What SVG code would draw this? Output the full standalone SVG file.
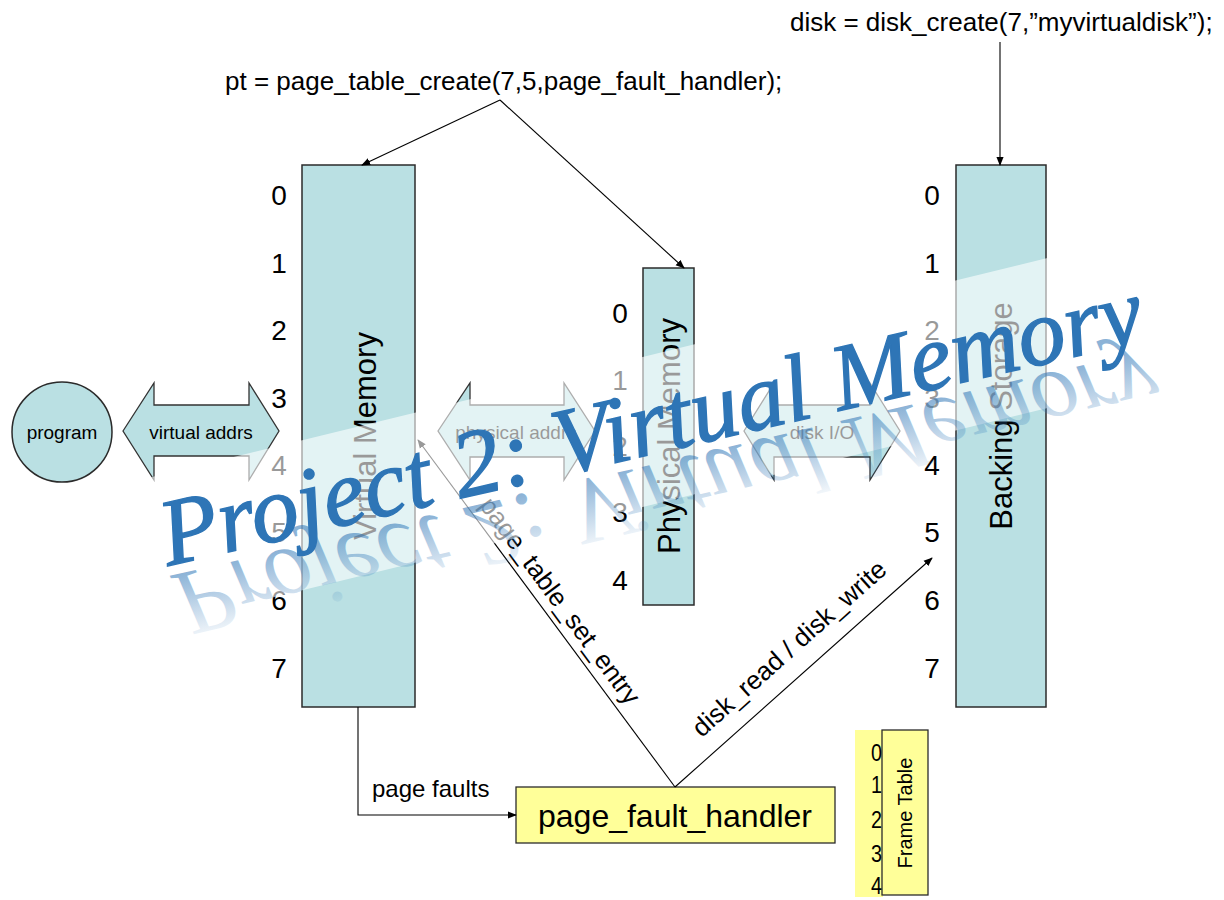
<svg xmlns="http://www.w3.org/2000/svg" width="1224" height="900" viewBox="0 0 1224 900">
<style>
text{font-family:"Liberation Sans",Arial,sans-serif;fill:#000}
.col{fill:#BAE0E3;stroke:#2b2b2b;stroke-width:1.5}
.yel{fill:#FFFF99;stroke:#2b2b2b;stroke-width:1.3}
.arw{fill:#BAE0E3;stroke:#333;stroke-width:1.3}
.num{font-size:28px;text-anchor:middle}
.ft{font-size:24px;text-anchor:end}
.lbl{font-size:19px;text-anchor:middle}
.big{font-size:31px;text-anchor:middle}
.code{font-size:26px}
.conn{fill:none;stroke:#000;stroke-width:1.1}
.title{font-family:"Liberation Serif","Times New Roman",serif;font-style:italic;font-size:95px;fill:#2E75B6;stroke:#2E75B6;stroke-width:1.4}
.refl{font-family:"Liberation Serif","Times New Roman",serif;font-style:italic;font-size:95px}
</style>
<defs>
<marker id="ah" viewBox="0 0 10 10" refX="9" refY="5" markerWidth="9" markerHeight="9" markerUnits="userSpaceOnUse" orient="auto">
<path d="M0,1 L10,5 L0,9 Z" fill="#000"/>
</marker>
<linearGradient id="refl" gradientUnits="userSpaceOnUse" x1="0" y1="0" x2="0" y2="-75">
<stop offset="0" stop-color="#2E75B6" stop-opacity="0.55"/>
<stop offset="1" stop-color="#2E75B6" stop-opacity="0"/>
</linearGradient>
</defs>
<rect width="1224" height="900" fill="#fff"/>

<g id="program">
<circle cx="62" cy="432" r="50" class="col"/>
<text class="lbl" x="62" y="439">program</text>
</g>

<g id="virtual-addrs">
<polygon class="arw" points="123,431 154,383 154,405 249,405 249,383 279,431 249,480 249,456 154,456 154,480"/>
<text class="lbl" x="201" y="439">virtual addrs</text>
</g>

<g id="virtual-memory">
<rect class="col" x="302" y="165" width="113" height="542"/>
<text class="big" transform="translate(376,436) rotate(-90)">Virtual Memory</text>
<text class="num" x="279" y="205">0</text>
<text class="num" x="279" y="273">1</text>
<text class="num" x="279" y="340">2</text>
<text class="num" x="279" y="408">3</text>
<text class="num" x="279" y="475">4</text>
<text class="num" x="279" y="542">5</text>
<text class="num" x="279" y="610">6</text>
<text class="num" x="279" y="678">7</text>
</g>

<g id="physical-addrs">
<polygon class="arw" points="438,431 470,383 470,405 564,405 564,383 595,431 564,480 564,457 470,457 470,480"/>
<text class="lbl" x="516" y="439">physical addrs</text>
</g>

<g id="physical-memory">
<rect class="col" x="643" y="268" width="51" height="337"/>
<text class="big" transform="translate(680,436) rotate(-90)">Physical Memory</text>
<text class="num" x="620" y="323">0</text>
<text class="num" x="620" y="390">1</text>
<text class="num" x="620" y="456">2</text>
<text class="num" x="620" y="522">3</text>
<text class="num" x="620" y="590">4</text>
</g>

<g id="disk-io">
<polygon class="arw" points="744,431 774,383 774,405 870,405 870,383 900,431 870,480 870,457 774,457 774,480"/>
<text class="lbl" x="822" y="439">disk I/O</text>
</g>

<g id="backing-storage">
<rect class="col" x="956" y="165" width="90" height="542"/>
<text class="big" transform="translate(1012,416) rotate(-90)">Backing Storage</text>
<text class="num" x="932" y="205">0</text>
<text class="num" x="932" y="273">1</text>
<text class="num" x="932" y="340">2</text>
<text class="num" x="932" y="408">3</text>
<text class="num" x="932" y="475">4</text>
<text class="num" x="932" y="542">5</text>
<text class="num" x="932" y="610">6</text>
<text class="num" x="932" y="678">7</text>
</g>

<g id="pt-create">
<text class="code" x="225" y="90">pt = page_table_create(7,5,page_fault_handler);</text>
</g>

<g id="disk-create">
<text class="code" x="790" y="31">disk = disk_create(7,”myvirtualdisk”);</text>
</g>

<g id="page-fault-handler">
<rect class="yel" x="516" y="787" width="319" height="56"/>
<text x="675" y="827" font-size="32" text-anchor="middle">page_fault_handler</text>
</g>

<g id="frame-table">
<rect x="855" y="730" width="28" height="167" fill="#FFFF99"/>
<rect class="yel" x="882" y="730" width="46" height="165"/>
<text transform="translate(912,813) rotate(-90)" font-size="20" text-anchor="middle">Frame Table</text>
<text class="ft" x="882" y="761" textLength="11" lengthAdjust="spacingAndGlyphs">0</text>
<text class="ft" x="882" y="793" textLength="11" lengthAdjust="spacingAndGlyphs">1</text>
<text class="ft" x="882" y="828" textLength="11" lengthAdjust="spacingAndGlyphs">2</text>
<text class="ft" x="882" y="862" textLength="11" lengthAdjust="spacingAndGlyphs">3</text>
<text class="ft" x="882" y="894" textLength="11" lengthAdjust="spacingAndGlyphs">4</text>
</g>

<g id="connectors">
<line class="conn" x1="500" y1="100" x2="362" y2="165" marker-end="url(#ah)"/>
<line class="conn" x1="500" y1="100" x2="684" y2="268" marker-end="url(#ah)"/>
<line class="conn" x1="1000" y1="42" x2="1000" y2="165" marker-end="url(#ah)"/>
<polyline class="conn" points="358,707 358,815 516,815" marker-end="url(#ah)"/>
<text x="372" y="797" font-size="24">page faults</text>
<line class="conn" x1="675" y1="787" x2="418" y2="440" marker-end="url(#ah)"/>
<text transform="translate(553,606) rotate(53.5)" font-size="26" text-anchor="middle">page_table_set_entry</text>
<line class="conn" x1="675" y1="787" x2="932" y2="558" marker-end="url(#ah)"/>
<text transform="translate(795,655) rotate(-41.7)" font-size="26" text-anchor="middle">disk_read / disk_write</text>
</g>

<g id="title-overlay">
<polygon points="140,480 1170,228 1170,378 140,630" fill="#fff" fill-opacity="0.6"/>
<g transform="translate(168,566) rotate(-13)">
<text class="refl" transform="translate(0,10) scale(1,-1)" style="fill:url(#refl)">Project 2: Virtual Memory</text>
<text class="title" x="0" y="0">Project 2: Virtual Memory</text>
</g>
</g>
</svg>
